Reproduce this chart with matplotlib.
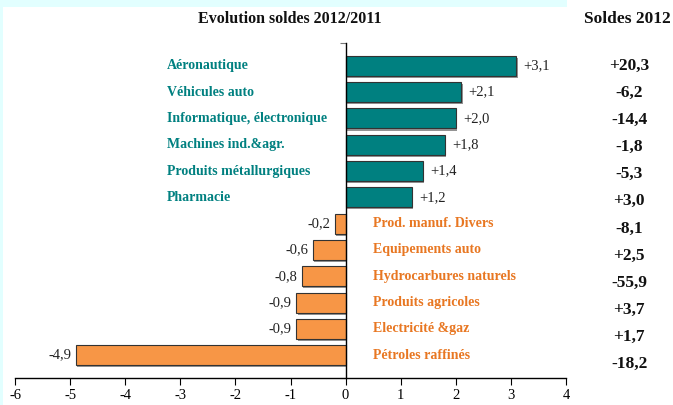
#!/usr/bin/env python3
# encoding: utf-8

import matplotlib
matplotlib.use('Agg')
import matplotlib.pyplot as plt
import matplotlib.patheffects as pe
from matplotlib.patches import Rectangle

categories = ['Aéronautique', 'Véhicules auto', 'Informatique, électronique',
              'Machines ind.&agr.', 'Produits métallurgiques', 'Pharmacie',
              'Prod. manuf. Divers', 'Equipements auto', 'Hydrocarbures naturels',
              'Produits agricoles', 'Electricité &gaz', 'Pétroles raffinés']
evolution = [3.1, 2.1, 2.0, 1.8, 1.4, 1.2, -0.2, -0.6, -0.8, -0.9, -0.9, -4.9]
soldes_2012 = ['+20,3', '-6,2', '-14,4', '-1,8', '-5,3', '+3,0',
               '-8,1', '+2,5', '-55,9', '+3,7', '+1,7', '-18,2']
xticks = [-6, -5, -4, -3, -2, -1, 0, 1, 2, 3, 4]

teal = '#008080'
orange = '#F79646'
serif = 'Liberation Serif'

fig = plt.figure(figsize=(6.73, 4.05), dpi=100)
fig.patch.set_facecolor('white')
# light cyan frame strips on the top and left edges
fig.patches.append(Rectangle((0, 1 - 7 / 405), 567 / 673, 7 / 405, transform=fig.transFigure,
                             facecolor='#E2FFFF', edgecolor='none', zorder=0))
fig.patches.append(Rectangle((0, 0), 3 / 673, 1, transform=fig.transFigure,
                             facecolor='#E2FFFF', edgecolor='none', zorder=0))

ax = fig.add_axes([15 / 673, 27 / 405, 551 / 673, 335 / 405])
ax.set_facecolor('none')

y = list(range(len(categories)))
colors = [teal if v > 0 else orange for v in evolution]
bars = ax.barh(y, evolution, height=0.76, color=colors, edgecolor='#333333', linewidth=0.8, zorder=3)
for b in bars:
    b.set_path_effects([pe.SimplePatchShadow(offset=(1.2, -1.5), shadow_rgbFace='#888888', alpha=0.9),
                        pe.Normal()])

ax.set_xlim(-6, 4)
ax.set_ylim(len(categories) - 1 + 0.87, -0.87)

for i, v in enumerate(evolution):
    lab = ('+' if v > 0 else '') + ('%.1f' % v).replace('.', ',')
    if v > 0:
        ax.text(v + 0.13, i, lab, ha='left', va='center', fontsize=10.5,
                family=serif, color='#222222')
        ax.text(-3.24, i, categories[i], ha='left', va='center', fontsize=10,
                family=serif, fontweight='bold', color=teal)
    else:
        ax.text(v - 0.08, i, lab, ha='right', va='center', fontsize=10.5,
                family=serif, color='#222222')
        ax.text(0.5, i, categories[i], ha='left', va='center', fontsize=10,
                family=serif, fontweight='bold', color='#E87722')

# Soldes 2012 column, to the right of the plot
for i, s in enumerate(soldes_2012):
    ax.text(5.15, i * 1.03, s, ha='center', va='center', fontsize=12.5,
            family=serif, fontweight='bold', color='#111111', clip_on=False)

fig.text(290 / 673, 1 - 19 / 405, 'Evolution soldes 2012/2011', ha='center', va='center',
         fontsize=11.5, family=serif, fontweight='bold', color='#111111')
fig.text(627 / 673, 1 - 19 / 405, 'Soldes 2012', ha='center', va='center',
         fontsize=12.5, family=serif, fontweight='bold', color='#111111')

for side in ['top', 'right']:
    ax.spines[side].set_visible(False)
ax.spines['left'].set_position(('data', 0))
ax.spines['left'].set_zorder(4)
ax.spines['left'].set_linewidth(1.0)
ax.spines['bottom'].set_linewidth(1.0)
ax.set_yticks([-0.87, len(categories) - 1 + 0.87])
ax.set_yticklabels([])
ax.tick_params(axis='y', length=4, color='#777777')
ax.set_xticks(xticks)
ax.set_xticklabels([str(t) for t in xticks], family=serif, fontsize=10.5)
ax.tick_params(axis='x', direction='out', length=5, pad=3)

fig.savefig('out.png', dpi=100)
